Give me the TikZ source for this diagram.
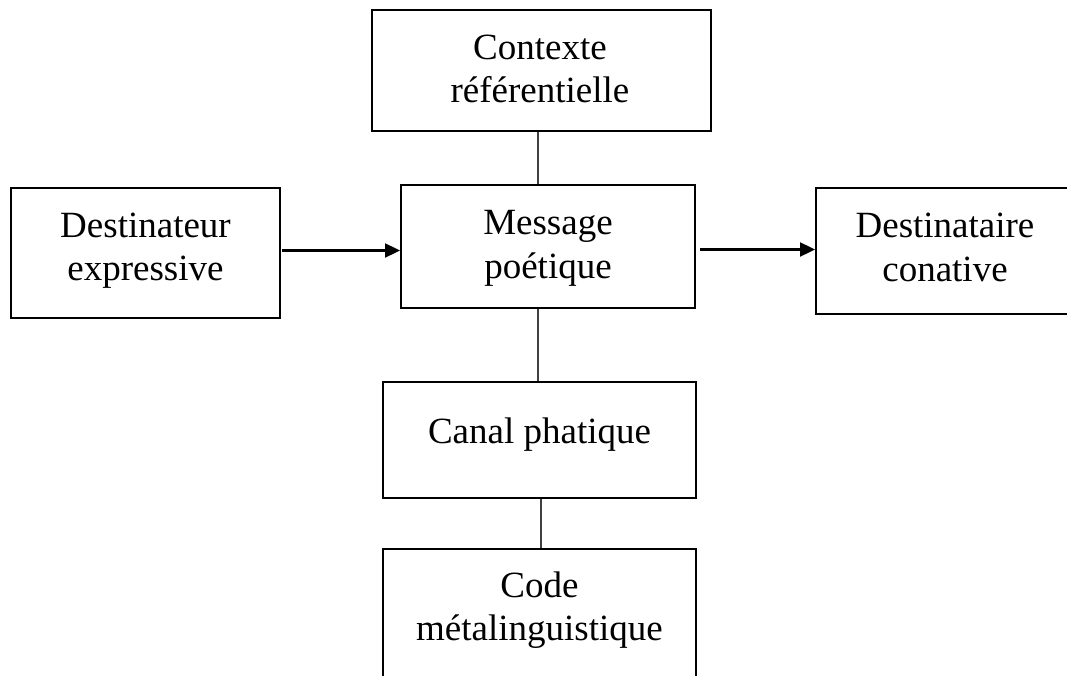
\documentclass[tikz,border=0pt]{standalone}
\usepackage{fontspec}
\setmainfont{Liberation Serif}
\usetikzlibrary{arrows.meta}
\begin{document}
\begin{tikzpicture}[x=1pt,y=-1pt,
  box/.style={draw=black,line width=2pt,inner sep=0pt,fill=none},
  txt/.style={font=\fontsize{37}{43}\selectfont,anchor=base,inner sep=0pt},
  link/.style={draw=black!75,line width=1.2pt},
  arr/.style={draw=black,line width=2.3pt,-{Triangle[length=15pt,width=14pt]}}]
\useasboundingbox (0,0) rectangle (1067,676);
\clip (0,0) rectangle (1067,676);
% boxes
\node[box,minimum width=339pt,minimum height=121pt] (ctx) at (541.5,70.5) {};
\node[box,minimum width=294pt,minimum height=123pt] (msg) at (548,246.5) {};
\node[box,minimum width=269pt,minimum height=130pt] (dest) at (145.5,253) {};
\node[box,minimum width=258pt,minimum height=126pt] (dtr) at (945,251) {};
\node[box,minimum width=313pt,minimum height=116pt] (canal) at (539.5,440) {};
\node[box,minimum width=313pt,minimum height=160pt] (code) at (539.5,629) {};
% texts
\node[txt] (t1a) at (540,60) {Contexte};
\node[txt] (t1b) at (540,103) {référentielle};
\node[txt] (t2a) at (145.5,237) {Destinateur};
\node[txt] (t2b) at (145.5,280) {expressive};
\node[txt] (t3a) at (548,235) {Message};
\node[txt] (t3b) at (548,278) {poétique};
\node[txt] (t4a) at (945,238) {Destinataire};
\node[txt] (t4b) at (945,281) {conative};
\node[txt] (t5) at (539.5,443) {Canal phatique};
\node[txt] (t6a) at (539.5,597) {Code};
\node[txt] (t6b) at (539.5,640) {métalinguistique};
% connectors
\coordinate (v1) at (538,0);
\coordinate (v2) at (541,0);
\coordinate (h1) at (0,250.5);
\coordinate (h2) at (0,249.5);
\draw[link] (ctx.south -| v1) -- (msg.north -| v1);
\draw[link] (msg.south -| v1) -- (canal.north -| v1);
\draw[link] (canal.south -| v2) -- (code.north -| v2);
\draw[arr] ([xshift=1pt]dest.east |- h1) -- (msg.west |- h1);
\draw[arr] ([xshift=4pt]msg.east |- h2) -- (dtr.west |- h2);
\end{tikzpicture}
\end{document}
